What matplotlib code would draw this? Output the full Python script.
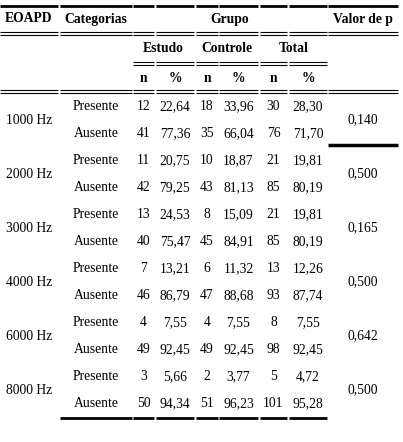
import matplotlib
matplotlib.use("Agg")
import matplotlib.pyplot as plt

freqs = ["1000 Hz", "2000 Hz", "3000 Hz", "4000 Hz", "6000 Hz", "8000 Hz"]
categorias = ["Presente", "Ausente"]
estudo_n = [12, 41, 11, 42, 13, 40, 7, 46, 4, 49, 3, 50]
estudo_p = ["22,64", "77,36", "20,75", "79,25", "24,53", "75,47", "13,21", "86,79", "7,55", "92,45", "5,66", "94,34"]
controle_n = [18, 35, 10, 43, 8, 45, 6, 47, 4, 49, 2, 51]
controle_p = ["33,96", "66,04", "18,87", "81,13", "15,09", "84,91", "11,32", "88,68", "7,55", "92,45", "3,77", "96,23"]
total_n = [30, 76, 21, 85, 21, 85, 13, 93, 8, 98, 5, 101]
total_p = ["28,30", "71,70", "19,81", "80,19", "19,81", "80,19", "12,26", "87,74", "7,55", "92,45", "4,72", "95,28"]
p_values = ["0,140", "0,500", "0,165", "0,500", "0,642", "0,500"]

W, H = 403, 442
fig = plt.figure(figsize=(W/100, H/100), dpi=100)
ax = fig.add_axes([0, 0, 1, 1])
ax.set_xlim(0, W); ax.set_ylim(H, 0); ax.axis("off")

cols = [(0, 58), (60, 132), (133, 154), (156, 194), (196, 218), (219, 258), (260, 287), (289, 327), (328, 398)]
cx = [(a + b) / 2 for a, b in cols]
FONT = "Liberation Serif"
fs = 9.8

def t(x, y, s, bold=False, ha="center"):
    ax.text(x, y, s, ha=ha, va="center", fontsize=fs, family=FONT,
            fontweight="bold" if bold else "normal")

def seg(i, y, lw=1.0):
    a, b = cols[i]
    ax.plot([a, b], [y, y], color="black", lw=lw, solid_capstyle="butt")

def dbl(idx, y):
    for i in idx:
        seg(i, y, 0.8); seg(i, y + 3, 0.8)

for i in range(9):
    seg(i, 5.5, 2.0)
t(cx[0], 19, "EOAPD", True)
t(cx[1], 19, "Categorias", True)
t((cols[2][0] + cols[7][1]) / 2, 19, "Grupo", True)
t(cx[8], 19, "Valor de p", True)
dbl(range(9), 32)
t((cols[2][0] + cols[3][1]) / 2, 49, "Estudo", True)
t((cols[4][0] + cols[5][1]) / 2, 49, "Controle", True)
t((cols[6][0] + cols[7][1]) / 2, 49, "Total", True)
dbl(range(2, 8), 62)
for i in [2, 4, 6]:
    t(cx[i], 78, "n", True)
for i in [3, 5, 7]:
    t(cx[i], 78, "%", True)
dbl(range(9), 90)

y0, dy = 106.5, 27.0
for k in range(12):
    y = y0 + k * dy
    t(cx[1], y, categorias[k % 2])
    t(cx[2], y, str(estudo_n[k]))
    t(cx[3], y, estudo_p[k])
    t(cx[4], y, str(controle_n[k]))
    t(cx[5], y, controle_p[k])
    t(cx[6], y, str(total_n[k]))
    t(cx[7], y, total_p[k])
for j, f in enumerate(freqs):
    ym = y0 + (2 * j + 0.5) * dy
    t(cx[0], ym, f)
    t(cx[8], ym, p_values[j])

seg(8, 144.5, 2.5)
for i in range(1, 8):
    seg(i, 418, 2.0)

fig.savefig("out.png", dpi=100)
